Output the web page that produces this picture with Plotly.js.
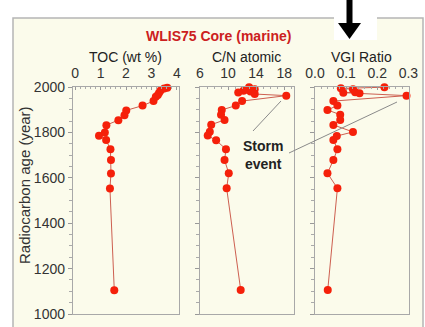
<!DOCTYPE html>
<html><head><meta charset="utf-8">
<script src="https://cdn.plot.ly/plotly-3.0.1.min.js"></script>
<style>html,body{margin:0;padding:0;background:#fff}#c{width:425px;height:327px}</style>
</head><body><div id="c"></div>
<script>
// TOC (wt %)
const tocYears = [1997, 1993, 1985, 1975, 1965, 1957, 1938, 1918, 1897, 1876, 1854, 1832, 1800, 1785, 1766, 1726, 1678, 1619, 1553, 1105];
const tocValues = [3.62, 3.50, 3.36, 3.30, 3.25, 3.17, 3.08, 2.65, 2.01, 1.94, 1.70, 1.23, 1.17, 0.94, 1.22, 1.39, 1.41, 1.41, 1.37, 1.54];
// C/N atomic
const cnYears = [1999, 1990, 1984, 1980, 1976, 1969, 1962, 1938, 1918, 1899, 1878, 1855, 1834, 1803, 1786, 1765, 1726, 1678, 1620, 1554, 1106];
const cnValues = [13.0, 13.8, 12.2, 13.2, 11.45, 13.8, 18.3, 12.0, 11.1, 9.1, 9.0, 9.5, 7.6, 7.4, 7.1, 8.3, 9.7, 9.5, 10.1, 9.8, 11.8];
// VGI Ratio
const vgiYears = [1999, 1994, 1990, 1977, 1975, 1972, 1962, 1938, 1918, 1899, 1878, 1855, 1833, 1802, 1784, 1767, 1726, 1678, 1620, 1554, 1106];
const vgiValues = [0.223, 0.083, 0.122, 0.129, 0.091, 0.143, 0.294, 0.059, 0.072, 0.040, 0.081, 0.081, 0.059, 0.122, 0.070, 0.059, 0.072, 0.059, 0.040, 0.072, 0.041];

const tocTicks = [0, 1, 2, 3, 4];
const cnTicks = [6, 10, 14, 18];
const vgiTicks = [0.0, 0.1, 0.2, 0.3];
const vgiTickText = ['0.0', '0.1', '0.2', '0.3'];
const yearTicks = [1000, 1200, 1400, 1600, 1800, 2000];

const mainTitle = 'WLIS75 Core (marine)';
const panelTitles = ['TOC (wt %)', 'C/N atomic', 'VGI Ratio'];
const yTitle = 'Radiocarbon age (year)';
const stormText = 'Storm<br>event';

const W = 425, H = 327;
const px = x => x / W, py = y => 1 - y / H;

const markerStyle = {color: '#f5200a', size: 8};
const lineStyle = {color: 'rgb(205,95,80)', width: 1};
function tr(x, y, xa, ya) {
  return {x: x, y: y, xaxis: xa, yaxis: ya, type: 'scatter', mode: 'lines+markers',
    marker: markerStyle, line: lineStyle, hoverinfo: 'none', showlegend: false, cliponaxis: false};
}
const data = [
  tr(tocValues, tocYears, 'x', 'y'),
  tr(cnValues, cnYears, 'x2', 'y2'),
  tr(vgiValues, vgiYears, 'x3', 'y3')
];

const font = {family: 'Liberation Sans, Arial, sans-serif', size: 14, color: '#333'};
const yDom = [1 - 314 / H, 1 - 87 / H];
function xax(dom, range, vals, text) {
  return {domain: dom, range: range, side: 'top', tickvals: vals, ticktext: text,
    ticks: 'inside', ticklen: 3, tickcolor: '#999', showgrid: false, zeroline: false,
    showline: true, mirror: true, linecolor: '#a8a8a8', linewidth: 1.2,
    tickfont: font, ticklabelstandoff: 2,
    minor: {ticks: 'inside', ticklen: 2, tickcolor: '#aaa', nticks: 5}, fixedrange: true};
}
function yax(anchor, showLabels) {
  return {domain: yDom, range: [1000, 2000], anchor: anchor, tickvals: yearTicks,
    showticklabels: showLabels, ticks: 'outside', ticklen: 4, tickcolor: '#999',
    showgrid: false, zeroline: false, showline: true, mirror: true, linecolor: '#a8a8a8', linewidth: 1.2,
    tickfont: font, minor: {ticks: 'outside', ticklen: 3, tickcolor: '#aaa', dtick: 50}, fixedrange: true};
}
const xa1 = xax([px(73), px(179)], [-0.08, 4.08], tocTicks, tocTicks.map(String)); xa1.anchor = 'y';
const xa2 = xax([px(200), px(294)], [6, 19.4], cnTicks, cnTicks.map(String)); xa2.anchor = 'y2';
const xa3 = xax([px(315), px(409)], [0, 0.302], vgiTicks, vgiTickText); xa3.anchor = 'y3';

function ann(text, x, y, size, color, extra) {
  return Object.assign({text: text, xref: 'paper', yref: 'paper', x: px(x), y: py(y),
    xanchor: 'center', yanchor: 'middle', showarrow: false,
    font: {family: font.family, size: size, color: color}}, extra || {});
}

const layout = {
  width: W, height: H, margin: {l: 0, r: 0, t: 0, b: 0},
  paper_bgcolor: '#ffffff', plot_bgcolor: '#fdfbd1',
  font: font,
  xaxis: xa1, xaxis2: xa2, xaxis3: xa3,
  yaxis: yax('x', true), yaxis2: yax('x2', false), yaxis3: yax('x3', false),
  shapes: [
    {type: 'rect', xref: 'paper', yref: 'paper', x0: px(13), x1: px(423), y0: py(340), y1: py(18),
      fillcolor: '#fbfbeb', line: {color: '#b5b5b5', width: 1.5}, layer: 'below'},
    {type: 'rect', xref: 'paper', yref: 'paper', x0: px(334), x1: px(377), y0: py(40), y1: py(10),
      fillcolor: '#ffffff', line: {width: 0}, layer: 'above'},
    {type: 'line', xref: 'paper', yref: 'paper', x0: px(253), y0: py(131), x1: px(281), y1: py(101),
      line: {color: '#8a8a8a', width: 1}},
    {type: 'line', xref: 'paper', yref: 'paper', x0: px(289), y0: py(153), x1: px(397), y1: py(102),
      line: {color: '#8a8a8a', width: 1}},
    {type: 'rect', xref: 'paper', yref: 'paper', x0: px(346.5), x1: px(352.5), y0: py(26), y1: py(-2),
      fillcolor: '#000', line: {width: 0}},
    {type: 'path', xref: 'paper', yref: 'paper',
      path: 'M ' + px(338) + ' ' + py(23) + ' L ' + px(361) + ' ' + py(23) + ' L ' + px(349.5) + ' ' + py(39) + ' Z',
      fillcolor: '#000', line: {width: 0}}
  ],
  annotations: [
    ann('<b>' + mainTitle + '</b>', 218, 36, 14, '#cc2020'),
    ann(panelTitles[0], 126, 57, 14, '#222'),
    ann(panelTitles[1], 246, 57, 14, '#222'),
    ann(panelTitles[2], 361, 57, 14, '#222'),
    ann(yTitle, 24, 185, 15, '#333', {textangle: -90}),
    ann('<b>' + stormText + '</b>', 263, 155, 14, '#222', {align: 'center'})
  ]
};
Plotly.newPlot('c', data, layout, {staticPlot: true, displayModeBar: false});
</script></body></html>
